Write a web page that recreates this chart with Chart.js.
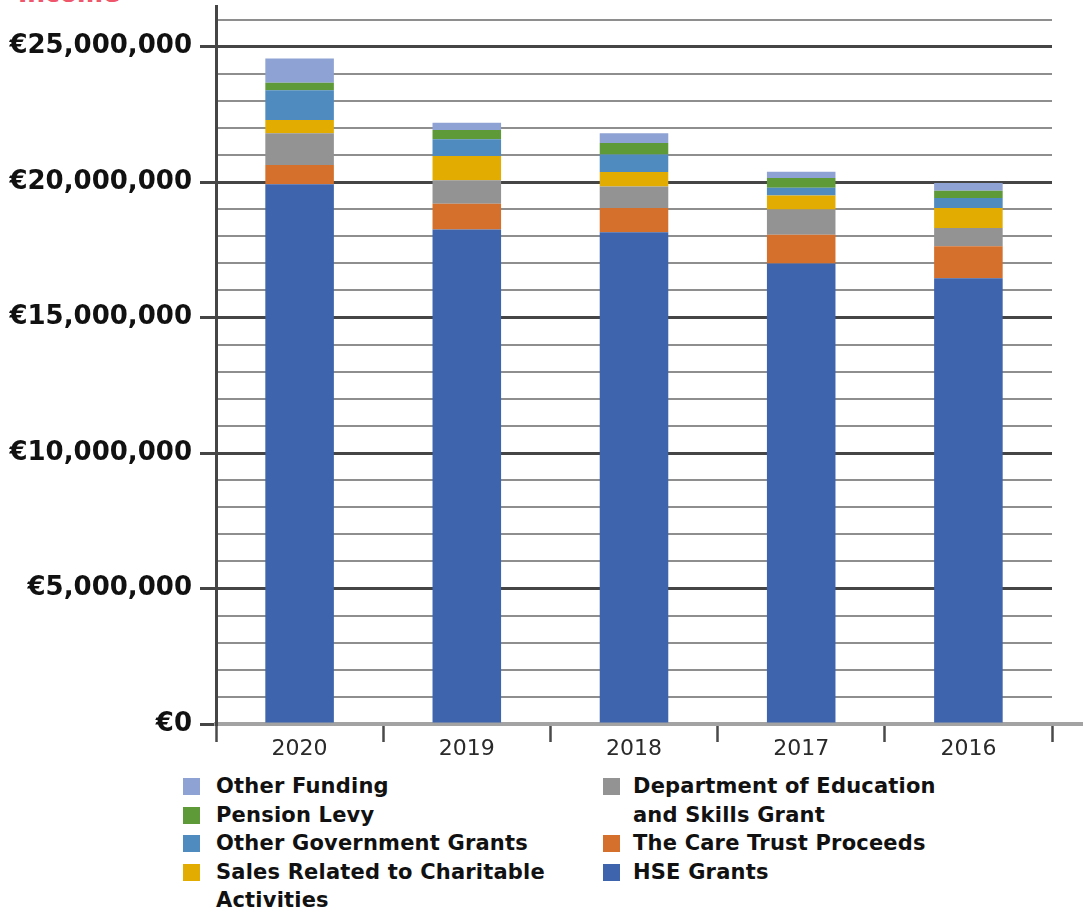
<!DOCTYPE html>
<html>
<head>
<meta charset="utf-8">
<script src="https://cdn.jsdelivr.net/npm/chart.js@4"></script>
<style>
  html, body { margin: 0; padding: 0; background: #fff; }
  #wrap { position: relative; width: 1083px; height: 913px; overflow: hidden; background: #fff; }
  #title {
    position: absolute; left: 18px; top: -19px;
    font: bold 25px "DejaVu Sans", sans-serif; line-height: 25px;
    color: #f0566b;
  }
  #chart { position: absolute; left: 0; top: 0; }
  .legend-col { position: absolute; top: 772px; }
  .legend-item { display: flex; align-items: flex-start; }
  .legend-box { width: 17px; height: 17px; flex: none; margin-top: 6px; }
  .legend-text {
    font: bold 21px "DejaVu Sans", sans-serif; line-height: 28.6px; color: #111;
    letter-spacing: 0.2px;
  }
</style>
</head>
<body>
<div id="wrap">
  <div id="title">Income</div>
  <canvas id="chart" width="1083" height="760"></canvas>
  <div id="legendLeft" class="legend-col" style="left:183px"></div>
  <div id="legendRight" class="legend-col" style="left:603px"></div>
</div>
<script>
// Income by source, stacked per year (euro)
const years = ['2020', '2019', '2018', '2017', '2016'];

const hseGrants     = [19920000, 18250000, 18150000, 17000000, 16450000];
const careTrust     = [710000, 950000, 890000, 1060000, 1180000];
const deptEducation = [1170000, 870000, 800000, 930000, 680000];
const salesCharity  = [490000, 890000, 530000, 520000, 730000];
const otherGovt     = [1100000, 620000, 650000, 280000, 370000];
const pensionLevy   = [280000, 340000, 420000, 360000, 270000];
const otherFunding  = [890000, 270000, 360000, 230000, 290000];

const yMax = 26500000;
const yStep = 1000000;
const yLabelStep = 5000000;

const series = [
  { label: 'HSE Grants', data: hseGrants, color: '#3d64ad' },
  { label: 'The Care Trust Proceeds', data: careTrust, color: '#d4702c' },
  { label: 'Department of Education and Skills Grant', data: deptEducation, color: '#939393' },
  { label: 'Sales Related to Charitable Activities', data: salesCharity, color: '#e3ac00' },
  { label: 'Other Government Grants', data: otherGovt, color: '#4f8bbf' },
  { label: 'Pension Levy', data: pensionLevy, color: '#5f9a38' },
  { label: 'Other Funding', data: otherFunding, color: '#8fa2d4' }
];

const isMajor = (v) => v % yLabelStep === 0;

// x axis line runs on past the last category tick to the canvas edge
const axisExtension = {
  id: 'axisExtension',
  beforeDatasetsDraw(chart) {
    const { ctx, chartArea } = chart;
    ctx.save();
    ctx.strokeStyle = '#a3a3a3';
    ctx.lineWidth = 4;
    ctx.beginPath();
    ctx.moveTo(chartArea.right - 2, chartArea.bottom);
    ctx.lineTo(chart.width, chartArea.bottom);
    ctx.stroke();
    ctx.restore();
  }
};

const chart = new Chart(document.getElementById('chart'), {
  type: 'bar',
  data: {
    labels: years,
    datasets: series.map((s) => ({
      label: s.label,
      data: s.data,
      backgroundColor: s.color,
      borderWidth: 0,
      barPercentage: 0.41,
      categoryPercentage: 1
    }))
  },
  options: {
    responsive: false,
    devicePixelRatio: 1,
    animation: false,
    layout: { padding: { top: 6, right: 31, bottom: 0, left: 0 } },
    plugins: {
      legend: { display: false },
      tooltip: { enabled: false }
    },
    scales: {
      x: {
        stacked: true,
        afterFit: (scale) => { scale.height = 36; },
        border: { display: true, color: '#a3a3a3', width: 4 },
        grid: {
          offset: true,
          drawOnChartArea: false,
          drawTicks: true,
          tickLength: 18,
          tickColor: '#4a4a4a',
          tickWidth: 2.5
        },
        ticks: {
          color: '#2a2a2a',
          padding: -6,
          font: { family: 'DejaVu Sans', size: 22 }
        }
      },
      y: {
        stacked: true,
        min: 0,
        max: yMax,
        afterFit: (scale) => {
          scale.width = 216;
          scale.paddingTop = 0;
          scale.paddingBottom = 0;
        },
        // one tick per million, up to the last whole million below the top
        afterBuildTicks: (scale) => {
          const ticks = [];
          for (let v = 0; v <= yMax; v += yStep) ticks.push({ value: v });
          scale.ticks = ticks;
        },
        border: { display: true, color: '#454545', width: 3 },
        grid: {
          color: (ctx) => ctx.tick.value === 0 ? 'rgba(0,0,0,0)' : (isMajor(ctx.tick.value) ? '#454545' : '#8e8e8e'),
          lineWidth: (ctx) => isMajor(ctx.tick.value) ? 3 : 2,
          tickLength: 16,
          tickColor: (ctx) => isMajor(ctx.tick.value) ? '#454545' : 'rgba(0,0,0,0)',
          tickWidth: 3
        },
        ticks: {
          autoSkip: false,
          padding: 8,
          color: '#111',
          font: { family: 'DejaVu Sans', size: 26, weight: 'bold' },
          callback: (v) => isMajor(v) ? '€' + v.toLocaleString('en-US') : ''
        }
      }
    }
  },
  plugins: [axisExtension]
});

// Legend in two columns, top series first
const legendItems = chart.data.datasets.slice().reverse();
legendItems.forEach((ds, i) => {
  const item = document.createElement('div');
  item.className = 'legend-item';
  const box = document.createElement('span');
  box.className = 'legend-box';
  box.style.background = ds.backgroundColor;
  const text = document.createElement('span');
  text.className = 'legend-text';
  text.textContent = ds.label;
  item.appendChild(box);
  item.appendChild(text);
  if (i < 4) {
    box.style.marginRight = '16px';
    text.style.width = '345px';
    document.getElementById('legendLeft').appendChild(item);
  } else {
    box.style.marginRight = '13px';
    text.style.width = '320px';
    document.getElementById('legendRight').appendChild(item);
  }
});
</script>
</body>
</html>
